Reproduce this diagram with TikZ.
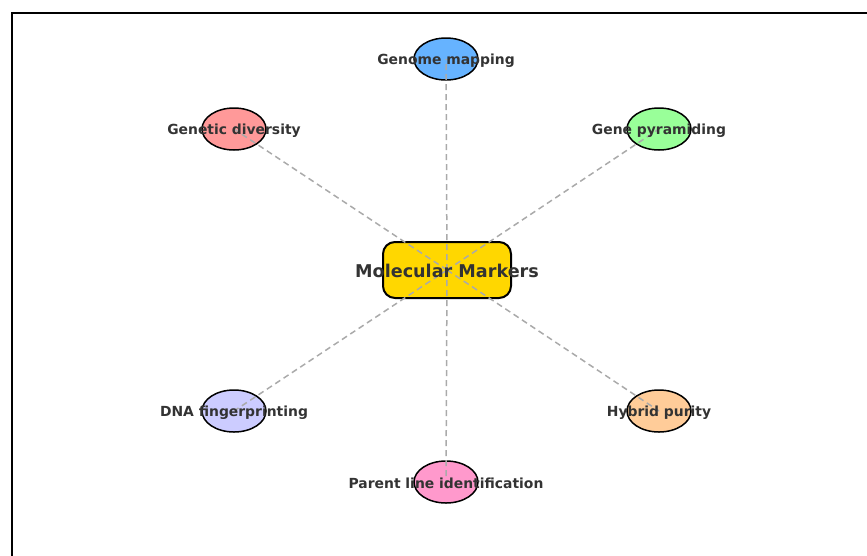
\documentclass[tikz,border=0pt]{standalone}
\usepackage{fontspec}
\setmainfont{DejaVu Sans}
\begin{document}
\begin{tikzpicture}[x=1pt,y=-1pt,
  leaf/.style={ellipse,draw=black,line width=1.5pt,minimum width=64pt,minimum height=42pt,inner sep=0pt},
  hub/.style={rectangle,rounded corners=12pt,draw=black,line width=2pt,fill=hubc,minimum width=128pt,minimum height=56pt,inner sep=0pt},
  link/.style={draw=linkc,line width=1.5pt,dash pattern=on 6pt off 4pt},
  lab/.style={text=txtc,font=\fontsize{13.9}{16}\selectfont\bfseries,yshift=-1.5pt},
  hublab/.style={text=txtc,font=\fontsize{17.6}{20}\selectfont\bfseries,yshift=-0.5pt}]
\usetikzlibrary{shapes.geometric}
\definecolor{hubc}{HTML}{FFD700}
\definecolor{linkc}{HTML}{AAAAAA}
\definecolor{txtc}{HTML}{333333}
\definecolor{cA}{HTML}{66B3FF}
\definecolor{cB}{HTML}{FF9999}
\definecolor{cC}{HTML}{99FF99}
\definecolor{cD}{HTML}{CCCCFF}
\definecolor{cE}{HTML}{FFCC99}
\definecolor{cF}{HTML}{FF99CC}
\useasboundingbox (0,0) rectangle (867,555);
\begin{scope}
\clip (0,0) rectangle (867,555);
\draw[line width=2pt] (12,13) rectangle (900,600);
\end{scope}
\node[hub] (hub) at (447,270) {};
\node[leaf,fill=cA] (gm) at (446,59) {};
\node[leaf,fill=cB] (gd) at (234,129) {};
\node[leaf,fill=cC] (gp) at (659,129) {};
\node[leaf,fill=cD] (df) at (234,411) {};
\node[leaf,fill=cE] (hp) at (659,411) {};
\node[leaf,fill=cF] (pl) at (446,482) {};
\foreach \n in {gm,gd,gp,df,hp,pl} {\path[link] (hub.center) -- (\n.center);}
\node[hublab] at (hub.center) {Molecular Markers};
\node[lab] at (gm.center) {Genome mapping};
\node[lab] at (gd.center) {Genetic diversity};
\node[lab] at (gp.center) {Gene pyramiding};
\node[lab] at (df.center) {DNA fingerprinting};
\node[lab] at (hp.center) {Hybrid purity};
\node[lab] at (pl.center) {Parent line identification};
\end{tikzpicture}
\end{document}
